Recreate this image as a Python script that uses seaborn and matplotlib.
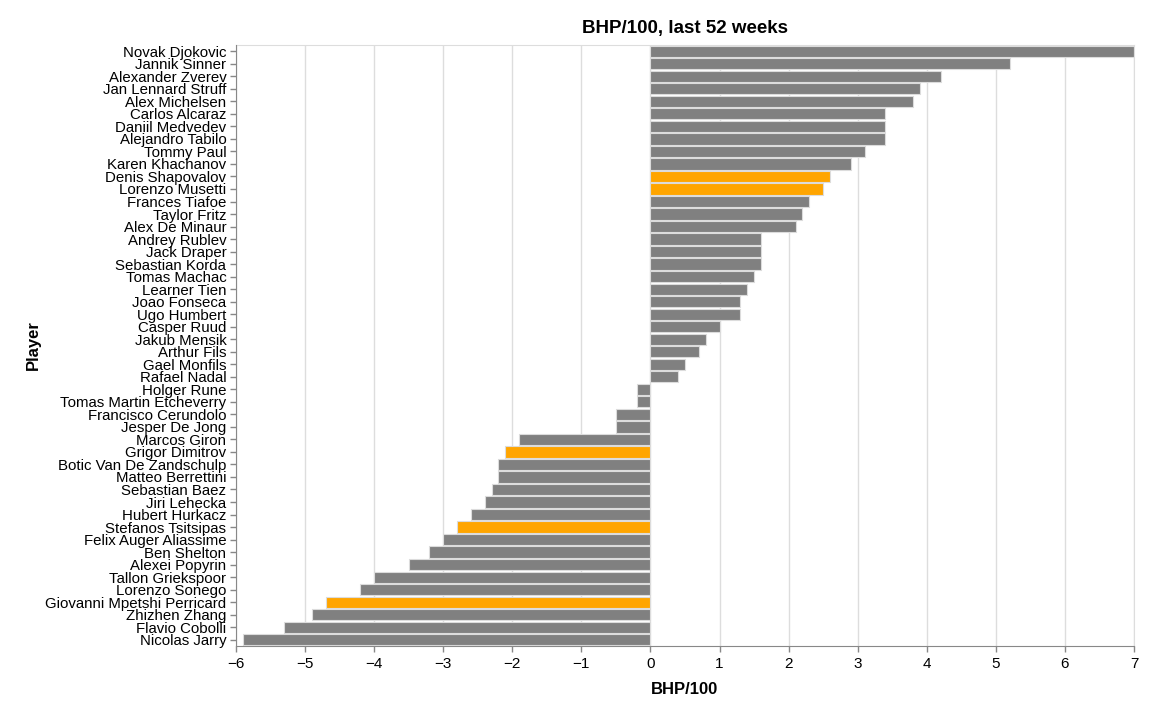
import pandas as pd
import seaborn as sns
import matplotlib.pyplot as plt

# data
players = [
    'Novak Djokovic', 'Jannik Sinner', 'Alexander Zverev', 'Jan Lennard Struff',
    'Alex Michelsen', 'Carlos Alcaraz', 'Daniil Medvedev', 'Alejandro Tabilo',
    'Tommy Paul', 'Karen Khachanov', 'Denis Shapovalov', 'Lorenzo Musetti',
    'Frances Tiafoe', 'Taylor Fritz', 'Alex De Minaur', 'Andrey Rublev',
    'Jack Draper', 'Sebastian Korda', 'Tomas Machac', 'Learner Tien',
    'Joao Fonseca', 'Ugo Humbert', 'Casper Ruud', 'Jakub Mensik',
    'Arthur Fils', 'Gael Monfils', 'Rafael Nadal', 'Holger Rune',
    'Tomas Martin Etcheverry', 'Francisco Cerundolo', 'Jesper De Jong', 'Marcos Giron',
    'Grigor Dimitrov', 'Botic Van De Zandschulp', 'Matteo Berrettini', 'Sebastian Baez',
    'Jiri Lehecka', 'Hubert Hurkacz', 'Stefanos Tsitsipas', 'Felix Auger Aliassime',
    'Ben Shelton', 'Alexei Popyrin', 'Tallon Griekspoor', 'Lorenzo Sonego',
    'Giovanni Mpetshi Perricard', 'Zhizhen Zhang', 'Flavio Cobolli', 'Nicolas Jarry',
]
bhp = [
    7.0, 5.2, 4.2, 3.9, 3.8, 3.4, 3.4, 3.4, 3.1, 2.9, 2.6, 2.5,
    2.3, 2.2, 2.1, 1.6, 1.6, 1.6, 1.5, 1.4, 1.3, 1.3, 1.0, 0.8,
    0.7, 0.5, 0.4, -0.2, -0.2, -0.5, -0.5, -1.9, -2.1, -2.2, -2.2, -2.3,
    -2.4, -2.6, -2.8, -3.0, -3.2, -3.5, -4.0, -4.2, -4.7, -4.9, -5.3, -5.9,
]
highlighted = ['Denis Shapovalov', 'Lorenzo Musetti', 'Grigor Dimitrov',
               'Stefanos Tsitsipas', 'Giovanni Mpetshi Perricard']

df = pd.DataFrame({'Player': players, 'BHP/100': bhp})
colors = {p: ('#ffa500' if p in highlighted else '#808080') for p in players}

sns.set_style('white')
plt.rcParams['font.family'] = ['Liberation Sans', 'DejaVu Sans']
plt.rcParams['text.color'] = 'black'
plt.rcParams['axes.labelcolor'] = 'black'

fig, ax = plt.subplots(figsize=(11.55, 7.18), dpi=100)
fig.subplots_adjust(left=236/1155, right=1134/1155, top=1-45/718, bottom=1-646/718)

sns.barplot(data=df, x='BHP/100', y='Player', hue='Player', palette=colors,
            legend=False, width=0.9, saturation=1, edgecolor='#dcdcdc',
            linewidth=0.8, ax=ax, zorder=2)

ax.set_xlim(-6, 7)
ax.set_ylim(len(players) - 0.5, -0.5)
ax.set_xticks(range(-6, 8))
ax.set_xticklabels([str(t).replace('-', '\u2212') for t in range(-6, 8)])
ax.grid(axis='x', color='#dddddd', linewidth=1, zorder=0)
ax.set_axisbelow(True)

for s in ['top', 'right']:
    ax.spines[s].set_color('#dddddd')
for s in ['left', 'bottom']:
    ax.spines[s].set_color('#888888')
    ax.spines[s].set_zorder(3)

ax.tick_params(axis='both', length=4, width=1, color='#888888',
               labelcolor='black', pad=3, left=True, bottom=True)
ax.tick_params(axis='y', labelsize=10.8)
ax.tick_params(axis='x', labelsize=11, pad=4)

ax.set_title('BHP/100, last 52 weeks', fontsize=13.5, fontweight='bold',
             color='black', pad=9)
ax.set_xlabel('BHP/100', fontsize=12, fontweight='bold', labelpad=8)
ax.set_ylabel('Player', fontsize=12, fontweight='bold', labelpad=3)

plt.savefig('out.png', dpi=100)
